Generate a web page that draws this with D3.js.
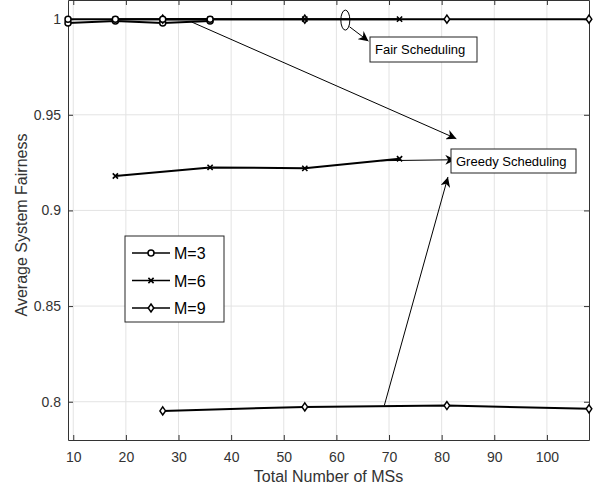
<!DOCTYPE html>
<html>
<head>
<meta charset="utf-8">
<script src="https://cdn.jsdelivr.net/npm/d3@7"></script>
<style>
  body { margin: 0; background: #fff; }
  svg { display: block; font-family: "Liberation Sans", Arial, sans-serif; }
</style>
</head>
<body>
<div id="chart"></div>
<script>
// ---- data ----
const xTicks = [10, 20, 30, 40, 50, 60, 70, 80, 90, 100];
const yTicks = [0.8, 0.85, 0.9, 0.95, 1];

const msM3 = [9, 18, 27, 36];
const msM6 = [18, 36, 54, 72];
const msM9 = [27, 54, 81, 108];

const fairM3 = [1, 1, 1, 1];
const fairM6 = [1, 1, 1, 1];
const fairM9 = [1, 1, 1, 1];

const greedyM3 = [0.998, 0.999, 0.998, 0.999];
const greedyM6 = [0.918, 0.9225, 0.922, 0.927];
const greedyM9 = [0.7952, 0.7973, 0.798, 0.7963];

const legendNames = ['M=3', 'M=6', 'M=9'];
const markerTypes = ['circle', 'cross', 'diamond'];

// ---- layout ----
const width = 603, height = 488;
const margin = { left: 68, right: 14, top: 0, bottom: 48 };

const svg = d3.select('#chart').append('svg')
  .attr('width', width)
  .attr('height', height);

const x = d3.scaleLinear().domain([9, 108]).range([margin.left, width - margin.right]);
const y = d3.scaleLinear().domain([0.78, 1.01]).range([height - margin.bottom, margin.top]);

const axisColor = '#333';
const gridColor = '#e3e3e3';

// grid
svg.append('g').selectAll('line.gx').data(xTicks).enter().append('line')
  .attr('x1', d => x(d)).attr('x2', d => x(d))
  .attr('y1', y.range()[0]).attr('y2', y.range()[1])
  .attr('stroke', gridColor).attr('stroke-width', 1);
svg.append('g').selectAll('line.gy').data(yTicks).enter().append('line')
  .attr('y1', d => y(d)).attr('y2', d => y(d))
  .attr('x1', x.range()[0]).attr('x2', x.range()[1])
  .attr('stroke', gridColor).attr('stroke-width', 1);

// axes (ticks pointing inward, box on all sides)
const fmtY = d => d === 1 ? '1' : String(d);
const bottomAxis = svg.append('g')
  .attr('transform', `translate(0,${y.range()[0]})`)
  .call(d3.axisBottom(x).tickValues(xTicks).tickSizeInner(-5).tickSizeOuter(0).tickPadding(12));
const topAxis = svg.append('g')
  .attr('transform', `translate(0,${y.range()[1]})`)
  .call(d3.axisTop(x).tickValues(xTicks).tickSizeInner(-5).tickSizeOuter(0).tickFormat(''));
const leftAxis = svg.append('g')
  .attr('transform', `translate(${x.range()[0]},0)`)
  .call(d3.axisLeft(y).tickValues(yTicks).tickFormat(fmtY).tickSizeInner(-5).tickSizeOuter(0).tickPadding(7));
const rightAxis = svg.append('g')
  .attr('transform', `translate(${x.range()[1]},0)`)
  .call(d3.axisRight(y).tickValues(yTicks).tickSizeInner(-5).tickSizeOuter(0).tickFormat(''));

[bottomAxis, topAxis, leftAxis, rightAxis].forEach(a => {
  a.select('.domain').attr('stroke', axisColor).attr('stroke-width', 1);
  a.selectAll('.tick line').attr('stroke', axisColor);
  a.selectAll('.tick text').attr('fill', axisColor)
    .style('font-size', '14px').style('font-family', '"Liberation Sans", Arial, sans-serif');
});

// axis labels
svg.append('text')
  .attr('x', (x.range()[0] + x.range()[1]) / 2)
  .attr('y', 482)
  .attr('text-anchor', 'middle')
  .attr('fill', axisColor)
  .style('font-size', '16px')
  .text('Total Number of MSs');
svg.append('text')
  .attr('transform', `translate(27,${(y.range()[0] + y.range()[1]) / 2 + 5}) rotate(-90)`)
  .attr('text-anchor', 'middle')
  .attr('fill', axisColor)
  .style('font-size', '16px')
  .text('Average System Fairness');

// markers
function drawMarker (g, type, cx, cy) {
  if (type === 'circle') {
    g.append('circle').attr('cx', cx).attr('cy', cy).attr('r', 3)
      .attr('fill', '#fff').attr('stroke', '#000').attr('stroke-width', 1.5);
  } else if (type === 'cross') {
    const s = 2.6;
    g.append('path')
      .attr('d', `M${cx - s},${cy - s}L${cx + s},${cy + s}M${cx - s},${cy + s}L${cx + s},${cy - s}`)
      .attr('stroke', '#000').attr('stroke-width', 1.6);
  } else {
    const s = 4;
    g.append('path')
      .attr('d', `M${cx},${cy - s}L${cx + s * 0.7},${cy}L${cx},${cy + s}L${cx - s * 0.7},${cy}Z`)
      .attr('fill', '#fff').attr('stroke', '#000').attr('stroke-width', 1.5);
  }
}

const line = d3.line().x(d => x(d[0])).y(d => y(d[1]));
const series = [
  { xs: msM9, ys: greedyM9, m: 'diamond' },
  { xs: msM6, ys: greedyM6, m: 'cross' },
  { xs: msM3, ys: greedyM3, m: 'circle' },
  { xs: msM9, ys: fairM9, m: 'diamond' },
  { xs: msM6, ys: fairM6, m: 'cross' },
  { xs: msM3, ys: fairM3, m: 'circle' }
];
const plot = svg.append('g');
series.forEach(s => {
  const pts = s.xs.map((v, i) => [v, s.ys[i]]);
  plot.append('path').datum(pts).attr('d', line)
    .attr('fill', 'none').attr('stroke', '#000').attr('stroke-width', 2);
  pts.forEach(p => drawMarker(plot, s.m, x(p[0]), y(p[1])));
});

// annotations
const defs = svg.append('defs');
defs.append('marker').attr('id', 'arrow')
  .attr('viewBox', '0 0 10 10').attr('refX', 10).attr('refY', 5)
  .attr('markerWidth', 10).attr('markerHeight', 10).attr('markerUnits', 'userSpaceOnUse')
  .attr('orient', 'auto')
  .append('path').attr('d', 'M0,0L10,5L0,10L3,5Z').attr('fill', '#000');

const ann = svg.append('g');
// ellipse around fair lines
ann.append('ellipse').attr('cx', x(61.7)).attr('cy', y(0.9995)).attr('rx', 4.5).attr('ry', 10)
  .attr('fill', 'none').attr('stroke', '#000').attr('stroke-width', 1);
ann.append('line').attr('x1', x(62.5)).attr('y1', y(0.996)).attr('x2', x(66.1)).attr('y2', y(0.9885))
  .attr('stroke', '#000').attr('stroke-width', 1).attr('marker-end', 'url(#arrow)');
// Fair box
ann.append('rect').attr('x', 370).attr('y', 37).attr('width', 107).attr('height', 25)
  .attr('fill', '#fff').attr('stroke', '#222').attr('stroke-width', 1);
ann.append('text').attr('x', 375).attr('y', 54).style('font-size', '13px').attr('fill', '#000')
  .text('Fair Scheduling');

// greedy arrows
ann.append('line').attr('x1', x(32.5)).attr('y1', y(0.9985)).attr('x2', x(82.8)).attr('y2', y(0.9375))
  .attr('stroke', '#000').attr('stroke-width', 1).attr('marker-end', 'url(#arrow)');
ann.append('line').attr('x1', x(68.5)).attr('y1', y(0.926)).attr('x2', x(82.6)).attr('y2', y(0.9265))
  .attr('stroke', '#000').attr('stroke-width', 1).attr('marker-end', 'url(#arrow)');
ann.append('line').attr('x1', x(69.1)).attr('y1', y(0.798)).attr('x2', x(81.2)).attr('y2', y(0.9175))
  .attr('stroke', '#000').attr('stroke-width', 1).attr('marker-end', 'url(#arrow)');
// Greedy box
ann.append('rect').attr('x', 451).attr('y', 149).attr('width', 125).attr('height', 24)
  .attr('fill', '#fff').attr('stroke', '#222').attr('stroke-width', 1);
ann.append('text').attr('x', 456).attr('y', 166).style('font-size', '13px').attr('fill', '#000')
  .text('Greedy Scheduling');

// legend
const legend = svg.append('g');
legend.append('rect').attr('x', 125).attr('y', 236).attr('width', 99).attr('height', 86)
  .attr('fill', '#fff').attr('stroke', '#262626').attr('stroke-width', 1);
legendNames.forEach((name, i) => {
  const ly = 253 + i * 27.5;
  legend.append('line').attr('x1', 132).attr('x2', 170).attr('y1', ly).attr('y2', ly)
    .attr('stroke', '#000').attr('stroke-width', 1.6);
  drawMarker(legend, markerTypes[i], 151, ly);
  legend.append('text').attr('x', 174).attr('y', ly + 6).style('font-size', '16px').attr('fill', '#000')
    .text(name);
});
</script>
</body>
</html>
